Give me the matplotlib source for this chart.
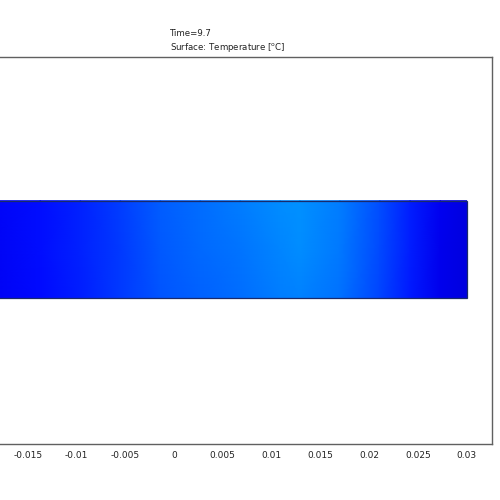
import numpy as np
import matplotlib
matplotlib.use('Agg')
import matplotlib.pyplot as plt
from matplotlib.patches import Rectangle

# temperature field (normalised on the jet scale)
x_nodes = [-0.0205, -0.0137, -0.0096, -0.0055, -0.0014, 0.0027, 0.0068,
           0.0109, 0.0129, 0.0170, 0.0211, 0.0242, 0.0273, 0.0300]
y_nodes = [-0.005, 0.0, 0.005]
T_bot = [0.100, 0.136, 0.156, 0.180, 0.208, 0.222, 0.234,
         0.248, 0.252, 0.236, 0.194, 0.150, 0.096, 0.084]
T_mid = [0.101, 0.138, 0.158, 0.183, 0.213, 0.228, 0.241,
         0.257, 0.262, 0.243, 0.199, 0.154, 0.097, 0.084]
T_top = [0.102, 0.138, 0.159, 0.185, 0.216, 0.233, 0.249,
         0.264, 0.268, 0.249, 0.203, 0.156, 0.098, 0.085]

xticks = [-0.015, -0.01, -0.005, 0, 0.005, 0.01, 0.015, 0.02, 0.025, 0.03]
xticklabels = ['-0.015', '-0.01', '-0.005', '0', '0.005', '0.01',
               '0.015', '0.02', '0.025', '0.03']

fig = plt.figure(figsize=(5, 5), dpi=100)
ax = fig.add_axes([-0.05, 0.112, 1.034, 0.774])

X, Y = np.meshgrid(x_nodes, y_nodes)
C = np.array([T_bot, T_mid, T_top])
ax.pcolormesh(X, Y, C, shading='gouraud', cmap='jet', vmin=0, vmax=1, zorder=1)
ax.add_patch(Rectangle((-0.03, -0.005), 0.06, 0.01, fill=False,
                       ec='#1a2a6a', lw=0.9, zorder=2))

ax.set_xlim(-0.0204, 0.0326)
ax.set_ylim(-0.0199, 0.0197)
ax.set_aspect('auto')
ax.set_xticks(xticks)
ax.set_xticklabels(xticklabels, fontsize=6.5, color='#222222')
ax.set_yticks([])
ax.tick_params(axis='x', length=0, pad=5)
for s in ax.spines.values():
    s.set_color('#606060')
    s.set_linewidth(1.0)

fig.text(0.34, 0.932, 'Time=9.7', fontsize=6.2, color='#222222', ha='left', va='center')
fig.text(0.34, 0.905, r'Surface: Temperature [$^{\mathrm{o}}$C]', fontsize=6.2,
         color='#222222', ha='left', va='center')

fig.savefig('out.png', dpi=100)
